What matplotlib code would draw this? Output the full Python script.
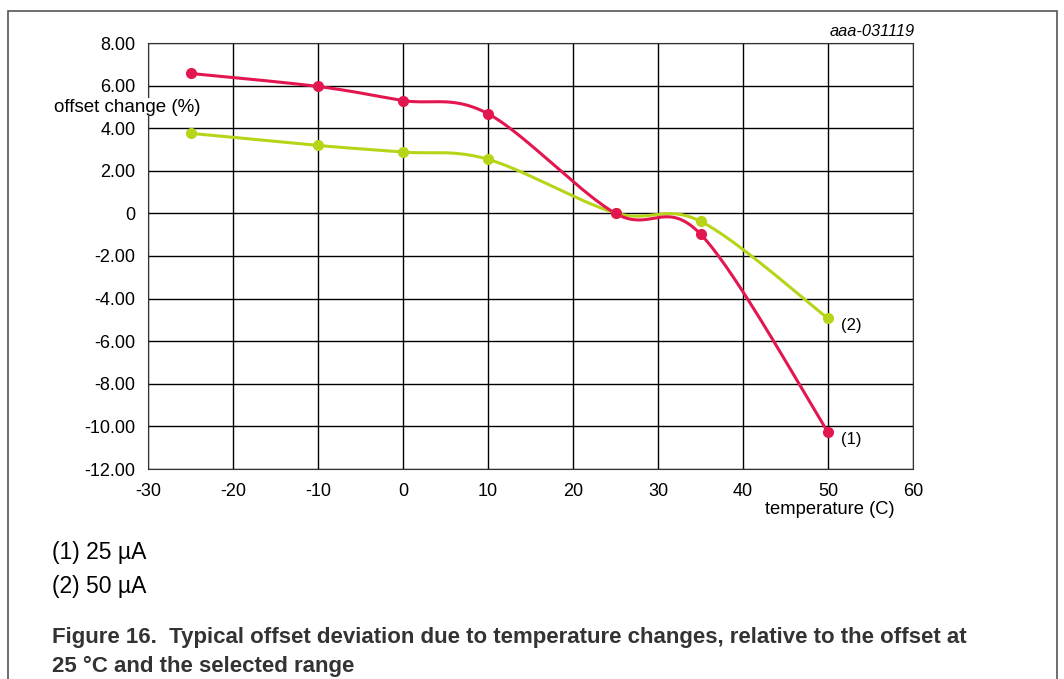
import numpy as np
import matplotlib
matplotlib.use("Agg")
import matplotlib.pyplot as plt
from matplotlib.patches import Rectangle

plt.rcParams['font.family'] = ['Liberation Sans', 'DejaVu Sans']
plt.rcParams['axes.unicode_minus'] = False

# data
temps = [-25, -10, 0, 10, 25, 35, 50]
offset_25uA = [6.57, 5.96, 5.30, 4.68, 0.0, -0.97, -10.27]
offset_50uA = [3.76, 3.19, 2.88, 2.54, 0.02, -0.37, -4.93]
series_labels = ["(1)", "(2)"]
legend_lines = ["(1) 25 µA", "(2) 50 µA"]
yticks = [8, 6, 4, 2, 0, -2, -4, -6, -8, -10, -12]
xticks = [-30, -20, -10, 0, 10, 20, 30, 40, 50, 60]

red = '#e3174f'
green = '#b8d418'


def smooth(xs, ys, n=40):
    # excel-like smoothed line (catmull-rom as cubic bezier)
    p = np.column_stack([xs, ys]).astype(float)
    pts = np.vstack([p[0], p, p[-1]])
    out = []
    t = np.linspace(0, 1, n)[:, None]
    for i in range(1, len(pts) - 2):
        p0, p1, p2, p3 = pts[i - 1], pts[i], pts[i + 1], pts[i + 2]
        c1 = p1 + (p2 - p0) / 6
        c2 = p2 - (p3 - p1) / 6
        seg = ((1 - t) ** 3) * p1 + 3 * ((1 - t) ** 2) * t * c1 + 3 * (1 - t) * t ** 2 * c2 + t ** 3 * p2
        out.append(seg)
    out = np.vstack(out)
    return out[:, 0], out[:, 1]


fig = plt.figure(figsize=(10.64, 6.79), dpi=100)
fig.patches.append(Rectangle((8 / 1064, -0.01), 1049 / 1064, 1 - 11 / 679 + 0.01,
                             transform=fig.transFigure, fill=False, edgecolor='#555555', lw=1.2))

ax = fig.add_axes([148 / 1064, 1 - 469 / 679, 765 / 1064, 426 / 679])
ax.set_xlim(-30, 60)
ax.set_ylim(-12, 8)
ax.set_xticks(xticks)
ax.set_yticks(yticks)
ax.set_yticklabels(["0" if v == 0 else f"{v:.2f}" for v in yticks])
ax.grid(True, color='black', lw=1)
ax.set_axisbelow(True)
for s in ax.spines.values():
    s.set_color('#333333')
ax.tick_params(length=0, labelsize=13)
ax.tick_params(axis='y', pad=9)
ax.tick_params(axis='x', pad=10)

for ys, col, lab in [(offset_50uA, green, series_labels[1]), (offset_25uA, red, series_labels[0])]:
    sx, sy = smooth(temps, ys)
    ax.plot(sx, sy, color=col, lw=2.2, zorder=3)
    ax.plot(temps, ys, 'o', color=col, ms=7, zorder=4)
    ax.annotate(lab, (temps[-1], ys[-1]), xytext=(9, -5), textcoords='offset points',
                fontsize=12, va='center')

fig.text(200 / 1064, 1 - 107 / 679, "offset change (%)", fontsize=13.5, ha='right', va='center',
         bbox=dict(facecolor='white', edgecolor='none', pad=0.5))
fig.text(895 / 1064, 1 - 509 / 679, "temperature (C)", fontsize=13.2, ha='right', va='center')
fig.text(915 / 1064, 1 - 32 / 679, "aaa-031119", fontsize=11.8, ha='right', va='center', style='italic')

fig.text(52 / 1064, 1 - 553 / 679, legend_lines[0], fontsize=16.5, ha='left', va='center')
fig.text(52 / 1064, 1 - 586 / 679, legend_lines[1], fontsize=16.5, ha='left', va='center')
fig.text(52 / 1064, 1 - 638 / 679,
         "Figure 16.  Typical offset deviation due to temperature changes, relative to the offset at",
         fontsize=16, ha='left', va='center', weight='bold', color='#333333')
fig.text(52 / 1064, 1 - 666 / 679, "25 °C and the selected range",
         fontsize=16, ha='left', va='center', weight='bold', color='#333333')

fig.savefig("out.png", dpi=100)
